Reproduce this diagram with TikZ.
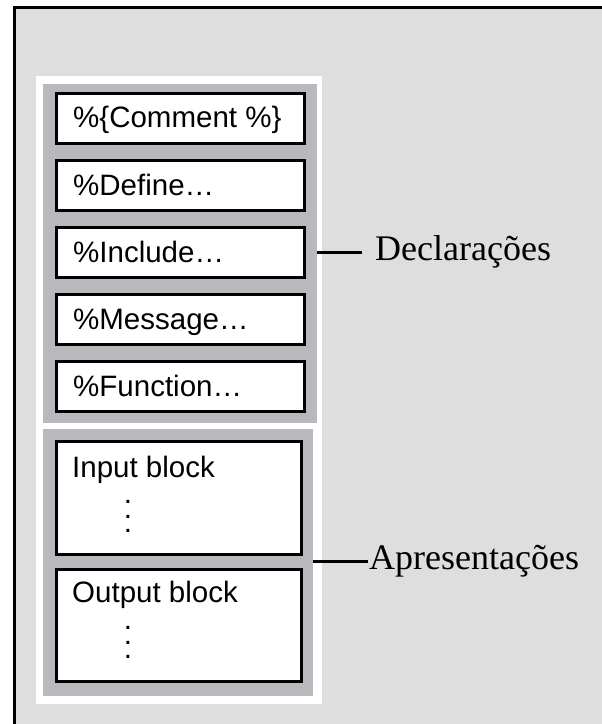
\documentclass[tikz,border=0pt]{standalone}
\usepackage{fontspec}
\setmainfont{Liberation Serif}
\setsansfont{Liberation Sans}
\definecolor{panelbg}{RGB}{222,222,222}
\definecolor{groupgray}{RGB}{185,184,188}
% three dots stacked with a wide, fixed pitch
\newcommand{\tallvdots}{\vbox{\baselineskip=14.5bp\lineskiplimit=-100bp\lineskip=0pt
  \hbox{.}\hbox{.}\hbox{.}}}
\begin{document}
\begin{tikzpicture}[x=1bp,y=-1bp,
  boxtxt/.style={font=\sffamily\fontsize{29.5bp}{34bp}\selectfont, inner sep=0pt},
  dotstxt/.style={font=\sffamily\fontsize{29.5bp}{34bp}\selectfont, inner sep=0pt},
  sidetxt/.style={font=\rmfamily\fontsize{36bp}{40bp}\selectfont, inner sep=0pt, anchor=west},
  entry/.style={draw=black, line width=3bp, fill=white, inner sep=0pt,
                minimum width=248bp, minimum height=50bp},
  blockbox/.style={draw=black, line width=3bp, fill=white, inner sep=0pt,
                minimum width=245bp},
  group/.style={fill=groupgray, inner sep=0pt},
  tick/.style={draw=black, line width=3bp}]
\useasboundingbox (0,0) rectangle (602,724);
\fill[white] (0,0) rectangle (602,724);
% window background and its frame
\fill[panelbg] (16,9) rectangle (602,724);
\draw[line width=3bp] (14.5,724) -- (14.5,7.5) -- (602,7.5);

% white sheet and the two grey groups
\node[fill=white, inner sep=0pt, minimum width=286bp, minimum height=628bp] (sheet) at (179,390) {};
\node[group, minimum width=274bp, minimum height=339bp] (declgrp) at (180,253.5) {};
\node[group, minimum width=270bp, minimum height=267bp] (presgrp) at (178,562.5) {};

% declaration entries
\node[entry] (eComment)  at (180.5,118.5) {};
\node[entry] (eDefine)   at (180.5,185.5) {};
\node[entry] (eInclude)  at (180.5,252.5) {};
\node[entry] (eMessage)  at (180.5,319.5) {};
\node[entry] (eFunction) at (180.5,386.5) {};

\node[boxtxt, anchor=base west] (tComment)  at (73,128) {\%\{Comment \%\}};
\node[boxtxt, anchor=base west] (tDefine)   at (73,195) {\%Define…};
\node[boxtxt, anchor=base west] (tInclude)  at (73,262) {\%Include…};
\node[boxtxt, anchor=base west] (tMessage)  at (73,329) {\%Message…};
\node[boxtxt, anchor=base west] (tFunction) at (73,396) {\%Function…};

% presentation blocks
\node[blockbox, minimum height=113bp] (inBlk)  at (179,498) {};
\node[blockbox, minimum height=112bp] (outBlk) at (179,625.5) {};
\node[boxtxt, anchor=base west] (tInput)  at (72,477) {Input block};
\node[boxtxt, anchor=base west] (tOutput) at (72,602) {Output block};
\node[dotstxt] (inDots)  at (128,516.5) {\tallvdots};
\node[dotstxt] (outDots) at (128,642.5) {\tallvdots};

% side labels
\node[sidetxt] (decl) at (375,252) {Declarações};
\node[sidetxt] (pres) at (369,561) {Apresentações};
\draw[tick] (declgrp.east |- decl.west) -- ([xshift=-13bp]decl.west);
\draw[tick] (presgrp.east |- pres.west) -- ([xshift=-1bp]pres.west);
\end{tikzpicture}
\end{document}
